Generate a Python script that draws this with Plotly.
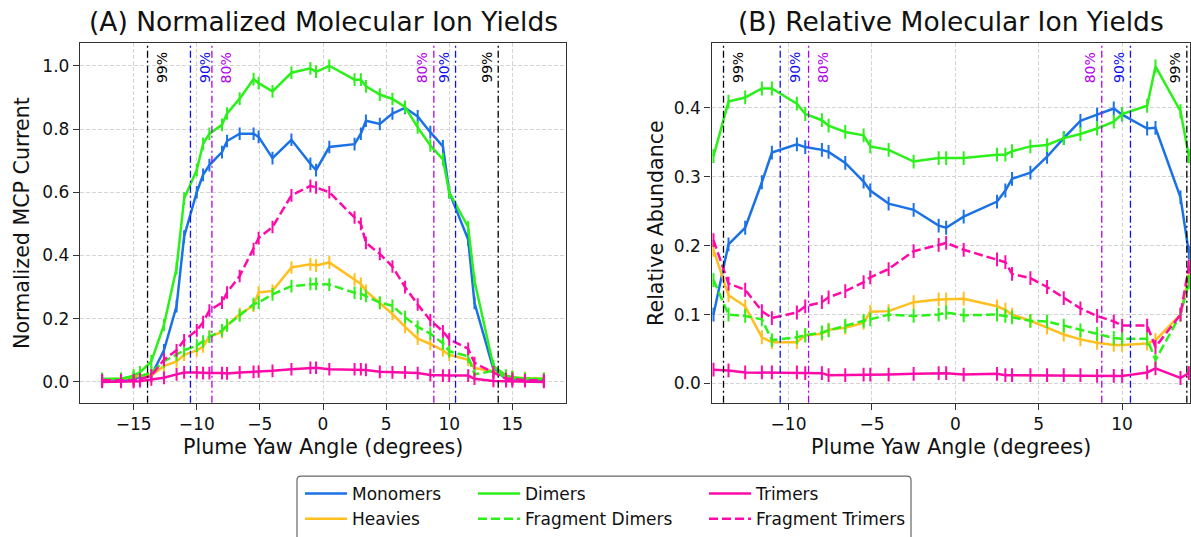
import plotly.graph_objects as go

# ---------------- data ----------------
angles_left = [-17.5, -16.0, -15.0, -14.5, -13.6, -12.6, -11.6, -11.0, -10.0, -9.5,
               -9.0, -8.0, -7.6, -6.6, -5.5, -5.1, -4.0, -2.5, -1.0, -0.55,
               0.5, 2.5, 3.0, 3.4, 4.5, 5.5, 6.5, 7.5, 8.5, 9.5,
               10.0, 11.5, 12.0, 13.5, 14.5, 15.0, 16.0, 17.5]

monomers_left = [0.005, 0.005, 0.01, 0.015, 0.02, 0.10, 0.24, 0.46, 0.60, 0.655,
                 0.686, 0.727, 0.762, 0.785, 0.785, 0.775, 0.708, 0.766, 0.69, 0.67,
                 0.743, 0.752, 0.785, 0.826, 0.816, 0.849, 0.867, 0.84, 0.79, 0.745,
                 0.6, 0.45, 0.25, 0.04, 0.01, 0.01, 0.008, 0.005]
heavies_left = [0.008, 0.01, 0.015, 0.02, 0.02, 0.05, 0.065, 0.086, 0.10, 0.112,
                0.143, 0.158, 0.179, 0.215, 0.241, 0.283, 0.288, 0.362, 0.372, 0.368,
                0.378, 0.324, 0.31, 0.288, 0.249, 0.215, 0.174, 0.137, 0.12, 0.1,
                0.086, 0.07, 0.044, 0.034, 0.018, 0.015, 0.012, 0.01]
dimers_left = [0.01, 0.01, 0.02, 0.03, 0.065, 0.18, 0.36, 0.58, 0.67, 0.753,
               0.785, 0.813, 0.849, 0.896, 0.958, 0.945, 0.919, 0.978, 0.992, 0.981,
               1.0, 0.956, 0.956, 0.935, 0.909, 0.895, 0.87, 0.805, 0.748, 0.704,
               0.6, 0.49, 0.32, 0.05, 0.02, 0.015, 0.01, 0.01]
frag_dimers_left = [0.005, 0.008, 0.012, 0.018, 0.03, 0.065, 0.086, 0.10, 0.115, 0.128,
                    0.143, 0.163, 0.179, 0.21, 0.246, 0.251, 0.277, 0.303, 0.31, 0.31,
                    0.308, 0.282, 0.279, 0.272, 0.251, 0.241, 0.205, 0.174, 0.153, 0.122,
                    0.097, 0.081, 0.024, 0.035, 0.015, 0.012, 0.01, 0.008]
trimers_left = [0.0, 0.0, 0.0, 0.002, 0.008, 0.013, 0.024, 0.03, 0.03, 0.028,
                0.028, 0.028, 0.027, 0.03, 0.032, 0.033, 0.035, 0.04, 0.045, 0.045,
                0.04, 0.04, 0.04, 0.038, 0.032, 0.03, 0.03, 0.028, 0.022, 0.02,
                0.02, 0.02, 0.01, 0.003, 0.002, 0.002, 0.002, 0.0]
frag_trimers_left = [0.005, 0.005, 0.005, 0.008, 0.02, 0.07, 0.10, 0.132, 0.163, 0.189,
                     0.226, 0.251, 0.283, 0.335, 0.42, 0.455, 0.49, 0.59, 0.62, 0.615,
                     0.6, 0.52, 0.50, 0.44, 0.405, 0.365, 0.30, 0.245, 0.195, 0.16,
                     0.135, 0.105, 0.06, 0.03, 0.01, 0.01, 0.005, 0.005]

angles_right = [-14.5, -13.6, -12.6, -11.6, -11.0, -9.5, -9.0, -8.0, -7.6, -6.6,
                -5.5, -5.1, -4.0, -2.5, -1.0, -0.55, 0.5, 2.5, 3.0, 3.4,
                4.5, 5.5, 6.5, 7.5, 8.5, 9.5, 10.0, 11.5, 12.0, 13.5, 14.0]

monomers_right = [0.10, 0.202, 0.226, 0.292, 0.335, 0.347, 0.343, 0.339, 0.336, 0.32,
                  0.293, 0.28, 0.261, 0.252, 0.229, 0.226, 0.242, 0.264, 0.28, 0.297,
                  0.306, 0.329, 0.356, 0.381, 0.39, 0.399, 0.39, 0.37, 0.371, 0.27, 0.19]
heavies_right = [0.194, 0.128, 0.112, 0.067, 0.06, 0.06, 0.07, 0.072, 0.078, 0.081,
                 0.088, 0.104, 0.105, 0.118, 0.122, 0.122, 0.123, 0.112, 0.107, 0.1,
                 0.091, 0.081, 0.071, 0.064, 0.059, 0.056, 0.056, 0.058, 0.063, 0.1, 0.157]
dimers_right = [0.33, 0.409, 0.415, 0.428, 0.428, 0.406, 0.391, 0.382, 0.374, 0.365,
                0.36, 0.344, 0.339, 0.322, 0.327, 0.327, 0.327, 0.332, 0.332, 0.337,
                0.344, 0.346, 0.356, 0.362, 0.37, 0.38, 0.391, 0.403, 0.46, 0.395, 0.33]
frag_dimers_right = [0.15, 0.1, 0.098, 0.093, 0.063, 0.067, 0.07, 0.074, 0.077, 0.084,
                     0.091, 0.093, 0.1, 0.098, 0.1, 0.103, 0.099, 0.1, 0.098, 0.096,
                     0.091, 0.09, 0.084, 0.077, 0.072, 0.066, 0.065, 0.065, 0.034, 0.1, 0.147]
trimers_right = [0.02, 0.019, 0.016, 0.016, 0.016, 0.016, 0.015, 0.015, 0.012, 0.012,
                 0.013, 0.013, 0.013, 0.014, 0.015, 0.015, 0.013, 0.014, 0.012, 0.012,
                 0.012, 0.012, 0.012, 0.012, 0.011, 0.011, 0.011, 0.016, 0.022, 0.008, 0.015]
frag_trimers_right = [0.208, 0.145, 0.136, 0.105, 0.095, 0.103, 0.112, 0.118, 0.125, 0.134,
                      0.147, 0.154, 0.166, 0.192, 0.201, 0.204, 0.194, 0.18, 0.176, 0.159,
                      0.153, 0.14, 0.124, 0.109, 0.098, 0.09, 0.084, 0.084, 0.053, 0.1, 0.17]

err_left = 0.02
err_right = 0.01

series_names = ["Monomers", "Heavies", "Dimers", "Fragment Dimers", "Trimers", "Fragment Trimers"]

plume_lines = [("99%", -13.9, 13.88), ("90%", -10.5, 10.5), ("80%", -8.8, 8.78)]

left_xticks = [-15, -10, -5, 0, 5, 10, 15]
right_xticks = [-10, -5, 0, 5, 10]
left_yticks = [0.0, 0.2, 0.4, 0.6, 0.8, 1.0]
right_yticks = [0.0, 0.1, 0.2, 0.3, 0.4]

# ---------------- styling ----------------
W, H = 1191, 537
FONT = "DejaVu Sans"
C_MONO = "#1a72e6"
C_DIM = "#2bf01a"
C_TRI = "#ff0aa8"
C_HEAVY = "#ffbf1f"
styles = {
    "Monomers": (C_MONO, "solid", "legend"),
    "Heavies": (C_HEAVY, "solid", "legend"),
    "Dimers": (C_DIM, "solid", "legend2"),
    "Fragment Dimers": (C_DIM, "9px,4px", "legend2"),
    "Trimers": (C_TRI, "solid", "legend3"),
    "Fragment Trimers": (C_TRI, "9px,4px", "legend3"),
}
line_colors = {"99%": "#000000", "90%": "#1010ee", "80%": "#b400ee"}

left_data = {
    "Monomers": monomers_left, "Heavies": heavies_left, "Dimers": dimers_left,
    "Fragment Dimers": frag_dimers_left, "Trimers": trimers_left,
    "Fragment Trimers": frag_trimers_left,
}
right_data = {
    "Monomers": monomers_right, "Heavies": heavies_right, "Dimers": dimers_right,
    "Fragment Dimers": frag_dimers_right, "Trimers": trimers_right,
    "Fragment Trimers": frag_trimers_right,
}

fig = go.Figure()
for name in series_names:
    color, dash, leg = styles[name]
    fig.add_trace(go.Scatter(
        x=angles_left, y=left_data[name], mode="lines", name=name,
        line=dict(color=color, width=2.5, dash=dash),
        error_y=dict(type="constant", value=err_left, thickness=2, width=0, color=color),
        xaxis="x", yaxis="y", legend=leg, showlegend=True))
for name in series_names:
    color, dash, leg = styles[name]
    fig.add_trace(go.Scatter(
        x=angles_right, y=right_data[name], mode="lines", name=name,
        line=dict(color=color, width=2.5, dash=dash),
        error_y=dict(type="constant", value=err_right, thickness=2, width=0, color=color),
        xaxis="x2", yaxis="y2", showlegend=False, cliponaxis=True))


def fmt(v, nd):
    s = f"{v:.{nd}f}"
    return s.replace("-", "\u2212")


ydom = [1 - 412 / H, 1 - 44 / H]
axis_common = dict(
    showline=True, mirror=True, linecolor="#333333", linewidth=1.4,
    ticks="outside", ticklen=6, tickwidth=1.3, tickcolor="#333333",
    showgrid=True, gridcolor="#d4d4d4", gridwidth=1, griddash="4px,2px",
    zeroline=False, tickfont=dict(family=FONT, size=17, color="#111111"),
)
fig.update_layout(
    width=W, height=H, margin=dict(l=0, r=0, t=0, b=0),
    paper_bgcolor="white", plot_bgcolor="white",
    font=dict(family=FONT, color="#111111"),
    xaxis=dict(domain=[80 / W, 566 / W], range=[-19.25, 19.25], anchor="y",
               tickmode="array", tickvals=left_xticks,
               ticktext=[fmt(v, 0) for v in left_xticks], **axis_common),
    yaxis=dict(domain=ydom, range=[-0.066, 1.072], anchor="x",
               tickmode="array", tickvals=left_yticks,
               ticktext=[fmt(v, 1) for v in left_yticks], **axis_common),
    xaxis2=dict(domain=[711.5 / W, 1190 / W], range=[-14.62, 14.07], anchor="y2",
                tickmode="array", tickvals=right_xticks,
                ticktext=[fmt(v, 0) for v in right_xticks], **axis_common),
    yaxis2=dict(domain=ydom, range=[-0.028, 0.494], anchor="x2",
                tickmode="array", tickvals=right_yticks,
                ticktext=[fmt(v, 1) for v in right_yticks], **axis_common),
    showlegend=True,
)

leg_common = dict(orientation="v", xanchor="left", yanchor="top",
                  bgcolor="rgba(0,0,0,0)", font=dict(family=FONT, size=17, color="#111111"),
                  tracegroupgap=0, itemwidth=42)
fig.update_layout(
    legend=dict(x=300 / W, y=1 - 487 / H, **leg_common),
    legend2=dict(x=473 / W, y=1 - 487 / H, **leg_common),
    legend3=dict(x=704 / W, y=1 - 487 / H, **leg_common),
)

# legend frame (rounded top corners; bottom runs off the page)
lx0, lx1, ly1, ly0 = 297 / W, 911 / W, 1 - 487 / H, -0.05
rx, ry = 4 / W, 4 / H
frame_path = (f"M {lx0},{ly0} L {lx0},{ly1 - ry} Q {lx0},{ly1} {lx0 + rx},{ly1} "
              f"L {lx1 - rx},{ly1} Q {lx1},{ly1} {lx1},{ly1 - ry} L {lx1},{ly0}")
fig.add_shape(type="path", xref="paper", yref="paper", path=frame_path,
              line=dict(color="#666666", width=1.2), layer="above")

# plume boundary lines and labels
for xa, ya in (("x", "y"), ("x2", "y2")):
    for label, xl, xr in plume_lines:
        c = line_colors[label]
        for xv, side in ((xl, "left"), (xr, "right")):
            fig.add_shape(type="line", xref=xa, yref=f"{ya} domain", x0=xv, x1=xv, y0=0, y1=1,
                          line=dict(color=c, width=1.3, dash="7px,3px,2px,3px"), layer="above")
            fig.add_annotation(
                xref=xa, yref=f"{ya} domain", x=xv, y=1, text=label, showarrow=False,
                textangle=-90, font=dict(family=FONT, size=14, color=c),
                xanchor="left" if side == "left" else "right", yanchor="top",
                xshift=4 if side == "left" else -2, yshift=-7)

# titles and axis labels
fig.add_annotation(xref="paper", yref="paper", x=323 / W, y=1 - 22 / H,
                   text="(A) Normalized Molecular Ion Yields", showarrow=False,
                   font=dict(family=FONT, size=26.5, color="#111111"), xanchor="center", yanchor="middle")
fig.add_annotation(xref="paper", yref="paper", x=951 / W, y=1 - 22 / H,
                   text="(B) Relative Molecular Ion Yields", showarrow=False,
                   font=dict(family=FONT, size=26.5, color="#111111"), xanchor="center", yanchor="middle")
for xc in (323, 951):
    fig.add_annotation(xref="paper", yref="paper", x=xc / W, y=1 - 457 / H,
                       text="Plume Yaw Angle (degrees)", showarrow=False,
                       font=dict(family=FONT, size=20.6, color="#111111"),
                       xanchor="center", yanchor="middle")
fig.add_annotation(xref="paper", yref="paper", x=22 / W, y=1 - 228 / H,
                   text="Normalized MCP Current", showarrow=False, textangle=-90,
                   font=dict(family=FONT, size=20.6, color="#111111"),
                   xanchor="center", yanchor="middle")
fig.add_annotation(xref="paper", yref="paper", x=656 / W, y=1 - 228 / H,
                   text="Relative Abundance", showarrow=False, textangle=-90,
                   font=dict(family=FONT, size=20.6, color="#111111"),
                   xanchor="center", yanchor="middle")

fig.write_html("out.html")
